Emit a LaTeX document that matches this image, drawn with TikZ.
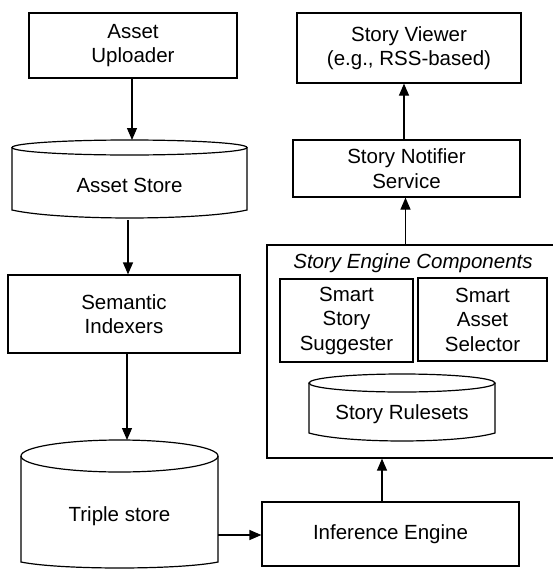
\documentclass[tikz,border=0pt]{standalone}
\usepackage{fontspec}
\setmainfont{Liberation Sans}
\usetikzlibrary{arrows.meta,calc}
\newcommand\fsz{\fontsize{20.5}{24.5}\selectfont}
\tikzset{
  lw/.style={line width=1.2pt},
  box/.style={draw, lw, align=center, inner sep=0pt, font=\fsz, rectangle},
  lbl/.style={align=center, inner sep=0pt, font=\fsz},
  arr/.style={lw, -{Triangle[length=12pt,width=10pt]}},
}
\newcommand\cylshape[6]{% x1 x2 yc ry ybot rb
  \draw[lw,fill=white] ({(#1+#2)/2},#3) ellipse [x radius={(#2-#1)/2*1pt}, y radius=#4pt];
  \draw[lw] (#1,#3) -- (#1,#5) .. controls ({#1+0.2*(#2-#1)},{#5+1.33*#6}) and ({#2-0.2*(#2-#1)},{#5+1.33*#6}) .. (#2,#5) -- (#2,#3);
}
\begin{document}
\begin{tikzpicture}[x=1pt,y=-1pt]
\useasboundingbox (0,0) rectangle (553,570);
\clip (0,0) rectangle (553,570);

% left column
\node[box, minimum width=208pt, minimum height=65pt] (upl) at (133,45.5) {Asset\\Uploader};
\cylshape{12}{247}{147.5}{7.5}{210}{8}
\node[lbl] (astore) at (129.5,185) {Asset Store};
\coordinate (astoreT) at (132,140);
\coordinate (astoreB) at (128,220);
\node[box, minimum width=232pt, minimum height=78pt] (sem) at (124,314) {Semantic\\Indexers};
\cylshape{21}{218}{456}{16}{562}{6}
\node[lbl] (triple) at (119.5,516) {Triple store};
\coordinate (tripleT) at (127,440);
\coordinate (tripleR) at (218,535);

% right column
\node[box, minimum width=224pt, minimum height=70pt] (viewer) at (409,48) {Story Viewer\\(e.g., RSS-based)};
\node[box, minimum width=227pt, minimum height=57pt] (notif) at (406.5,168.5) {Story Notifier\\Service};
\node[box, minimum width=293pt, minimum height=213pt] (sec) at (413.5,351.5) {};
\node[lbl, font=\fsz\itshape] (sectitle) at (413,263) {Story Engine Components};
\node[box, minimum width=133pt, minimum height=83pt] (sss) at (346.5,320.5) {Smart\\Story\\Suggester};
\node[box, minimum width=129pt, minimum height=83pt] (sas) at (482.5,319.5) {Smart\\Asset\\Selector};
\cylshape{309}{495}{383}{9}{433}{8}
\node[lbl] (rules) at (402,414) {Story Rulesets};
\node[box, minimum width=257pt, minimum height=64pt] (inf) at (390.5,534) {Inference Engine};

% connectors
\draw[arr] (upl.south -| astoreT) -- (astoreT);
\draw[arr] (astoreB) -- (astoreB |- sem.north);
\draw[arr] (sem.south -| tripleT) -- (tripleT);
\draw[arr] (tripleR) -- (tripleR -| inf.west);
\draw[arr] ([xshift=-8.5pt]inf.north) -- ([xshift=-8.5pt]inf.north |- sec.south);
\draw[arr] ([xshift=-8pt]sec.north) -- ([xshift=-8pt]sec.north |- notif.south);
\draw[arr] ([xshift=-2.5pt]notif.north) -- ([xshift=-2.5pt]notif.north |- viewer.south);
\end{tikzpicture}
\end{document}
